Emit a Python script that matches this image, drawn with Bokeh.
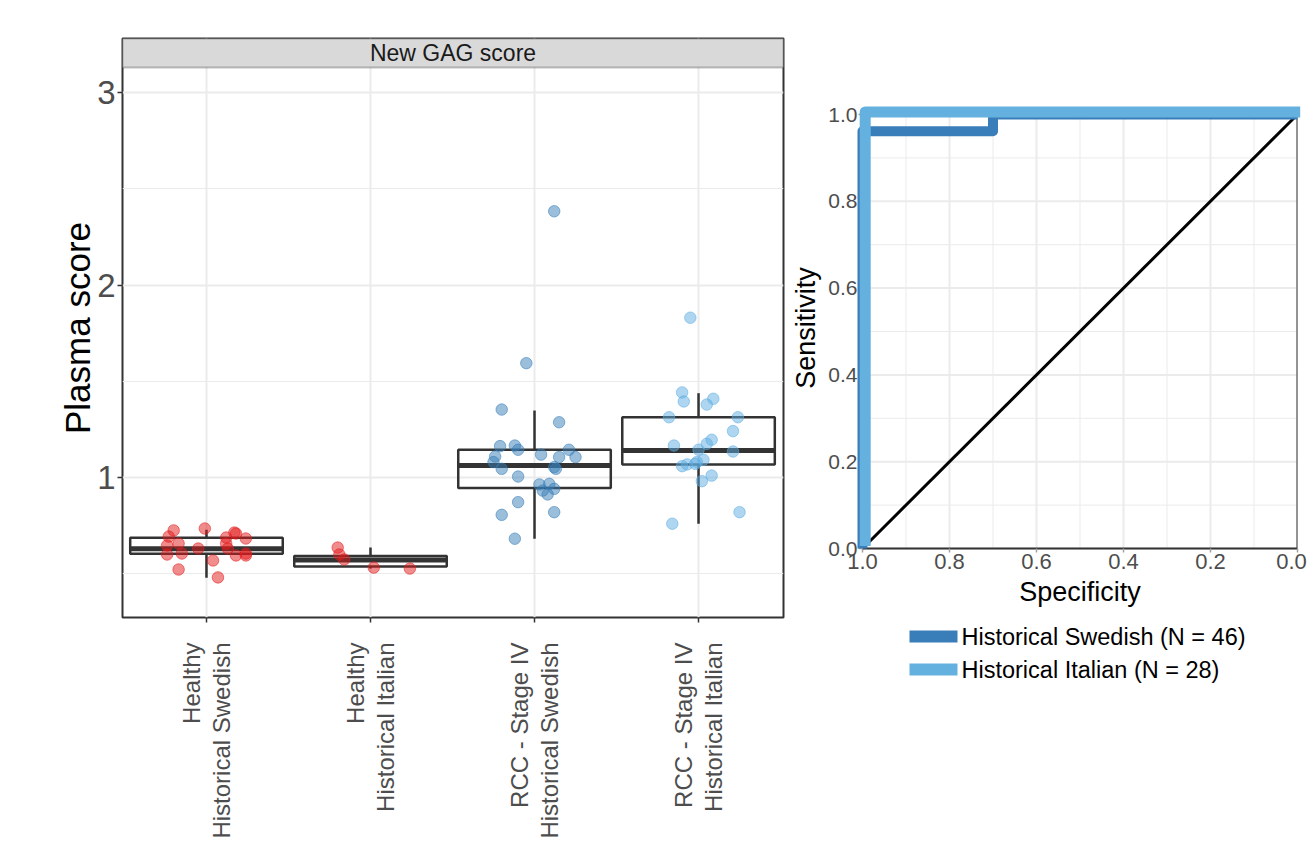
import numpy as np
from bokeh.plotting import figure
from bokeh.layouts import row
from bokeh.models import Range1d, FixedTicker, BoxAnnotation, Label, NumeralTickFormatter, ColumnDataSource
from bokeh.core.properties import value
from bokeh.embed import file_html
from bokeh.resources import INLINE
from math import pi

FONT = "Liberation Sans"

# ---------------- data: left panel ----------------
categories = ["Healthy\nHistorical Swedish", "Healthy\nHistorical Italian",
              "RCC - Stage IV\nHistorical Swedish", "RCC - Stage IV\nHistorical Italian"]
cat_pos = [1, 2, 3, 4]

hs_jit = [-0.20, -0.23, -0.01, 0.12, 0.17, 0.18, 0.24, -0.24, -0.17, -0.05,
          -0.24, -0.15, 0.12, 0.13, 0.18, 0.24, 0.04, -0.17, 0.07, 0.24]
hs_val = [0.725, 0.693, 0.735, 0.688, 0.714, 0.709, 0.683, 0.647, 0.657, 0.631,
          0.600, 0.605, 0.657, 0.631, 0.595, 0.605, 0.569, 0.522, 0.481, 0.595]

hi_jit = [-0.20, -0.19, -0.16, 0.02, 0.24]
hi_val = [0.636, 0.600, 0.574, 0.532, 0.527]

rs_jit = [0.12, -0.05, -0.20, 0.15, -0.21, -0.12, -0.10, 0.04, 0.21, 0.15, 0.25, -0.24, -0.25,
          -0.20, 0.12, 0.13, -0.10, 0.03, 0.09, 0.05, 0.12, 0.08, -0.10, -0.20, 0.12, -0.12]
rs_val = [2.383, 1.594, 1.353, 1.287, 1.163, 1.166, 1.144, 1.119, 1.144, 1.106, 1.106, 1.109, 1.080,
          1.045, 1.054, 1.045, 1.005, 0.964, 0.967, 0.932, 0.941, 0.912, 0.872, 0.806, 0.820, 0.682]

ri_jit = [-0.05, -0.10, -0.09, 0.09, 0.05, -0.18, 0.24, 0.21, 0.08, 0.05, -0.15,
          0.00, 0.21, 0.03, -0.01, -0.07, -0.10, -0.02, 0.08, 0.02, 0.25, -0.16]
ri_val = [1.830, 1.442, 1.395, 1.409, 1.379, 1.313, 1.313, 1.241, 1.196, 1.175, 1.166,
          1.144, 1.135, 1.092, 1.080, 1.068, 1.059, 1.071, 1.010, 0.981, 0.820, 0.760]

box_q1 = [0.604, 0.538, 0.946, 1.068]
box_med = [0.630, 0.572, 1.062, 1.140]
box_q3 = [0.687, 0.592, 1.144, 1.313]
box_lo = [0.479, 0.527, 0.682, 0.760]
box_hi = [0.728, 0.636, 1.348, 1.438]

# ---------------- data: ROC ----------------
sw_spec = [1.0, 1.0, 0.70, 0.70, 0.0]
sw_sens = [0.0, 0.9615, 0.9615, 1.0, 1.0]
it_spec = [1.0, 1.0, 0.0]
it_sens = [0.0, 1.0, 1.0]
diag_spec = [1.0, 0.0]
diag_sens = [0.0, 1.0]
roc_ticks = [0.0, 0.2, 0.4, 0.6, 0.8, 1.0]
roc_tick_labels = ["0.0", "0.2", "0.4", "0.6", "0.8", "1.0"]
roc_minor = [0.1, 0.3, 0.5, 0.7, 0.9]
legend_labels = ["Historical Swedish (N = 46)", "Historical Italian (N = 28)"]

RED = "#E41A1C"
BLUE_D = "#377EB8"
BLUE_L = "#5DADE2"
ROC_D = "#3A7EB9"
ROC_L = "#64B1E0"
DARK = "#333333"
GRID = "#EBEBEB"
TICKTXT = "#4D4D4D"
TICKCOL = "#A0A0A0"

H = 844
FRAME_TOP, FRAME_BOT = 38, 617

# ================= left figure =================
ppu = 192.5  # pixels per unit; value 3 at y=92, 1 at y=477
y_top = 3 + (92 - FRAME_TOP) / ppu
y_bot = 1 - (FRAME_BOT - 477) / ppu
strip_bottom = 3 + (92 - 67) / ppu
x0, x1 = 0.488, 4.518

p = figure(width=786, height=H, output_backend="svg", toolbar_location=None,
           x_range=Range1d(x0, x1), y_range=Range1d(y_bot, y_top),
           min_border_left=122, min_border_right=3, min_border_top=FRAME_TOP,
           min_border_bottom=H - FRAME_BOT)
p.background_fill_color = "white"
p.border_fill_color = "white"
p.outline_line_color = DARK
p.outline_line_width = 2

p.xgrid.ticker = FixedTicker(ticks=cat_pos)
p.xgrid.grid_line_color = GRID
p.xgrid.grid_line_width = 2
p.ygrid.ticker = FixedTicker(ticks=[1, 2, 3], minor_ticks=[0.5, 1.5, 2.5])
p.ygrid.grid_line_color = GRID
p.ygrid.grid_line_width = 2
p.ygrid.minor_grid_line_color = GRID
p.ygrid.minor_grid_line_width = 1

p.xaxis.ticker = FixedTicker(ticks=cat_pos)
p.xaxis.major_label_overrides = {c: lab for c, lab in zip(cat_pos, categories)}
p.xaxis.major_label_orientation = pi / 2
p.xaxis.major_label_text_font = FONT
p.xaxis.major_label_text_font_size = "24px"
p.xaxis.major_label_text_color = TICKTXT
p.xaxis.major_label_text_line_height = 1.1
p.xaxis.major_label_standoff = 20
p.xaxis.axis_line_color = None
p.xaxis.major_tick_out = 5
p.xaxis.major_tick_in = 0
p.xaxis.major_tick_line_color = DARK
p.xaxis.major_tick_line_width = 1.5
p.xaxis.minor_tick_line_color = None

p.yaxis.ticker = FixedTicker(ticks=[1, 2, 3])
p.yaxis.major_label_text_font = FONT
p.yaxis.major_label_text_font_size = "33px"
p.yaxis.major_label_text_color = TICKTXT
p.yaxis.major_label_standoff = 2
p.yaxis.axis_line_color = None
p.yaxis.major_tick_out = 5
p.yaxis.major_tick_in = 0
p.yaxis.major_tick_line_color = DARK
p.yaxis.major_tick_line_width = 1.5
p.yaxis.minor_tick_line_color = None
p.yaxis.axis_label = "Plasma score"
p.yaxis.axis_label_text_font = FONT
p.yaxis.axis_label_text_font_size = "35px"
p.yaxis.axis_label_text_font_style = "normal"
p.yaxis.axis_label_text_color = "black"
p.yaxis.axis_label_standoff = -3

# strip
p.add_layout(BoxAnnotation(bottom=strip_bottom, fill_color="#D9D9D9", fill_alpha=1.0,
                           line_color=DARK, line_width=2, level="annotation"))
p.add_layout(Label(x=(x0 + x1) / 2, y=(strip_bottom + y_top) / 2, text="New GAG score",
                   text_align="center", text_baseline="middle", text_font=FONT,
                   text_font_size="23px", text_color="#1A1A1A", level="annotation"))

# boxes
half = 0.465
pos = np.array(cat_pos, dtype=float)
box_src = ColumnDataSource(dict(left=pos - half, right=pos + half, q1=box_q1, q3=box_q3,
                                med=box_med, lo=box_lo, hi=box_hi, x=pos))
p.segment(x0="x", y0="q3", x1="x", y1="hi", source=box_src, line_color=DARK, line_width=2.5)
p.segment(x0="x", y0="q1", x1="x", y1="lo", source=box_src, line_color=DARK, line_width=2.5)
p.quad(left="left", right="right", bottom="q1", top="q3", source=box_src,
       fill_color=None, line_color=DARK, line_width=2.5)
p.segment(x0="left", y0="med", x1="right", y1="med", source=box_src, line_color=DARK, line_width=5)

# points
groups = [(hs_jit, hs_val, 1, RED), (hi_jit, hi_val, 2, RED),
          (rs_jit, rs_val, 3, BLUE_D), (ri_jit, ri_val, 4, BLUE_L)]
for jit, val, cpos, col in groups:
    p.scatter(x=list(cpos + np.array(jit)), y=val, size=11.5, marker="circle",
              fill_color=col, fill_alpha=0.5, line_color=col, line_alpha=0.55, line_width=1)

# ================= right figure (ROC) =================
# value 0 at y=548, value 1 at y=114; x 1.0 at 862, 0.0 at 1297
rppu = 434.0
r_bot = -(FRAME_BOT - 548) / rppu
r_top = 1 + (114 - FRAME_TOP) / rppu
xppu = 435.0

q = figure(width=526, height=H, output_backend="svg", toolbar_location=None,
           x_range=Range1d(1, 0), y_range=Range1d(r_bot, r_top),
           min_border_left=76, min_border_right=15, min_border_top=FRAME_TOP,
           min_border_bottom=H - FRAME_BOT)
q.background_fill_color = "white"
q.border_fill_color = "white"
q.outline_line_color = None
q.xgrid.visible = False
q.ygrid.visible = False
q.xaxis.visible = False

# grid lines limited to the unit square
for ticks, w in ((roc_minor, 1), (roc_ticks, 2)):
    n = len(ticks)
    q.segment(x0=ticks, y0=[0] * n, x1=ticks, y1=[1] * n, line_color=GRID, line_width=w)
    q.segment(x0=[1] * n, y0=ticks, x1=[0] * n, y1=ticks, line_color=GRID, line_width=w)

ax = q.yaxis
ax.ticker = FixedTicker(ticks=roc_ticks)
ax.formatter = NumeralTickFormatter(format="0.0")
ax.major_label_text_font = FONT
ax.major_label_text_color = TICKTXT
ax.major_label_text_font_size = "21px"
ax.major_label_standoff = 1
ax.axis_line_color = None
ax.major_tick_out = 4
ax.major_tick_in = 0
ax.major_tick_line_color = TICKCOL
ax.major_tick_line_width = 1.5
ax.minor_tick_line_color = None
ax.axis_label = "Sensitivity"
ax.axis_label_text_font = FONT
ax.axis_label_text_font_size = "27px"
ax.axis_label_text_font_style = "normal"
ax.axis_label_text_color = "black"
ax.axis_label_standoff = 4

# x axis (specificity) drawn below the unit square
tick_len = 4 / rppu
nt = len(roc_ticks)
q.segment(x0=roc_ticks, y0=[0] * nt, x1=roc_ticks, y1=[-tick_len] * nt,
          line_color=TICKCOL, line_width=1.5, level="annotation")
q.text(x=roc_ticks, y=[-(553 - 548) / rppu] * nt, text=roc_tick_labels, text_font=value(FONT),
       text_font_size="22px", text_color=TICKTXT, text_align="center", text_baseline="top",
       x_offset=[-6 if t == 0 else 0 for t in roc_ticks], level="annotation")
q.text(x=[0.5], y=[-(591 - 548) / rppu], text=["Specificity"], text_font=value(FONT),
       text_font_size="27px", text_color="black", text_align="center", text_baseline="middle",
       level="annotation")

q.line(diag_spec, diag_sens, line_color="black", line_width=3)
# panel border
q.quad(left=[1], right=[0], bottom=[0], top=[1], fill_color=None, line_color=DARK, line_width=2)
q.line(sw_spec, sw_sens, line_color=ROC_D, line_width=10, line_join="round", level="annotation")
# the lighter curve is drawn nudged by ~3px, as in the reference
nudge_x, nudge_y = 2.7 / xppu, 2.5 / rppu
q.line([s - nudge_x for s in it_spec], [v + nudge_y for v in it_sens], line_color=ROC_L,
       line_width=11, line_join="round", level="annotation")

# legend (drawn below the panel)
leg_x0 = 1 - (909 - 862) / xppu
leg_x1 = 1 - (957 - 862) / xppu
leg_tx = 1 - (961 - 862) / xppu
leg_y = [-(636 - 548) / rppu, -(669 - 548) / rppu]
leg_cols = [ROC_D, ROC_L]
q.segment(x0=[leg_x0] * 2, y0=leg_y, x1=[leg_x1] * 2, y1=leg_y, line_color=leg_cols,
          line_width=12, level="annotation")
q.text(x=[leg_tx] * 2, y=leg_y, text=legend_labels, text_font=value(FONT),
       text_font_size="23.5px", text_color="black", text_baseline="middle", text_align="left",
       level="annotation")

layout = row(p, q)
open("out.html", "w").write(file_html(layout, INLINE))
